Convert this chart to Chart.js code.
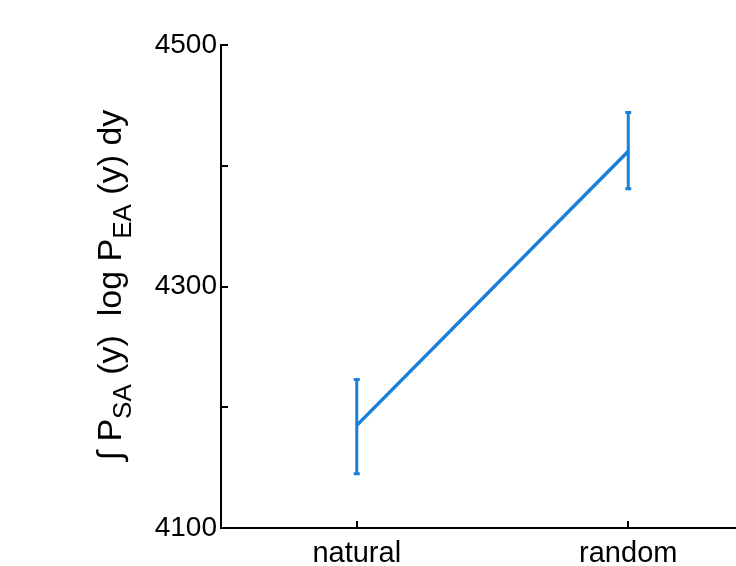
<!DOCTYPE html>
<html>
<head>
<meta charset="utf-8">
<script src="https://cdn.jsdelivr.net/npm/chart.js@4/dist/chart.umd.min.js"></script>
<style>
html, body { margin: 0; padding: 0; overflow: hidden; background: #fff; }
</style>
</head>
<body>
<canvas id="myCanvas" width="780" height="566"></canvas>
<script>
var categorie = ['natural', 'random'];
var medie = [4185, 4412];
var erroreSopra = [4223, 4444];
var erroreSotto = [4145, 4381];
var tickEtichette = [4100, 4300, 4500];
var tickTutti = [4100, 4200, 4300, 4400, 4500];

var blu = '#1a7fd8';
var font = "'Liberation Sans', Arial, Helvetica, sans-serif";

// barre d'errore
var barreErrore = {
  id: 'barreErrore',
  afterDatasetsDraw: function (chart) {
    var ctx = chart.ctx;
    var x = chart.scales.x, y = chart.scales.y;
    ctx.save();
    ctx.strokeStyle = blu;
    ctx.lineWidth = 3;
    for (var i = 0; i < medie.length; i++) {
      var px = x.getPixelForValue(i);
      var yt = y.getPixelForValue(erroreSopra[i]);
      var yb = y.getPixelForValue(erroreSotto[i]);
      ctx.beginPath();
      ctx.moveTo(px, yt); ctx.lineTo(px, yb);
      ctx.moveTo(px - 3, yt); ctx.lineTo(px + 3, yt);
      ctx.moveTo(px - 3, yb); ctx.lineTo(px + 3, yb);
      ctx.stroke();
    }
    ctx.restore();
  }
};

// tacche verso l'interno + titolo asse y
var assi = {
  id: 'assi',
  afterDraw: function (chart) {
    var ctx = chart.ctx;
    var x = chart.scales.x, y = chart.scales.y;
    var a = chart.chartArea;
    ctx.save();
    ctx.strokeStyle = '#000';
    ctx.lineWidth = 2;
    ctx.beginPath();
    tickTutti.forEach(function (v) {
      var py = Math.round(y.getPixelForValue(v));
      ctx.moveTo(a.left, py); ctx.lineTo(a.left + 7, py);
    });
    for (var i = 0; i < categorie.length; i++) {
      var px = Math.round(x.getPixelForValue(i));
      ctx.moveTo(px, a.bottom); ctx.lineTo(px, a.bottom - 7);
    }
    ctx.stroke();

    // titolo ruotato con pedici
    var pezzi = [
      ['\u222B P', false], ['SA', true], [' (y)  log P', false],
      ['EA', true], [' (y) dy', false]
    ];
    var grande = 34, piccolo = 26;
    var larg = 0;
    pezzi.forEach(function (p) {
      ctx.font = (p[1] ? piccolo : grande) + 'px ' + font;
      larg += ctx.measureText(p[0]).width;
    });
    ctx.translate(121, 285);
    ctx.rotate(-Math.PI / 2);
    ctx.fillStyle = '#000';
    ctx.textBaseline = 'alphabetic';
    var cx = -larg / 2;
    pezzi.forEach(function (p) {
      ctx.font = (p[1] ? piccolo : grande) + 'px ' + font;
      ctx.fillText(p[0], cx, p[1] ? 10 : 0);
      cx += ctx.measureText(p[0]).width;
    });
    ctx.restore();
  }
};

var chart = new Chart(document.querySelector('#myCanvas').getContext('2d'), {
  type: 'line',
  data: {
    labels: categorie,
    datasets: [{
      label: 'media',
      data: medie,
      borderColor: blu,
      borderWidth: 3.5,
      pointRadius: 0,
      tension: 0
    }]
  },
  options: {
    responsive: false,
    animation: false,
    devicePixelRatio: 1,
    layout: { padding: { top: 45, right: 16, left: 0, bottom: 0 } },
    plugins: { legend: { display: false }, tooltip: { enabled: false } },
    scales: {
      x: {
        offset: true,
        grid: { display: false, drawTicks: false },
        border: { display: true, color: '#000', width: 2 },
        ticks: { color: '#000', font: { family: font, size: 29 }, padding: 9, maxRotation: 0 },
        afterFit: function (s) { s.height = 38; }
      },
      y: {
        min: 4100,
        max: 4500,
        grid: { display: false, drawTicks: false },
        border: { display: true, color: '#000', width: 2 },
        ticks: {
          stepSize: 100,
          autoSkip: false,
          color: '#000',
          padding: 4,
          font: { family: font, size: 28 },
          callback: function (v) { return tickEtichette.indexOf(v) >= 0 ? String(v) : ''; }
        },
        afterFit: function (s) { s.width = 221; }
      }
    }
  },
  plugins: [barreErrore, assi]
});
</script>
</body>
</html>
